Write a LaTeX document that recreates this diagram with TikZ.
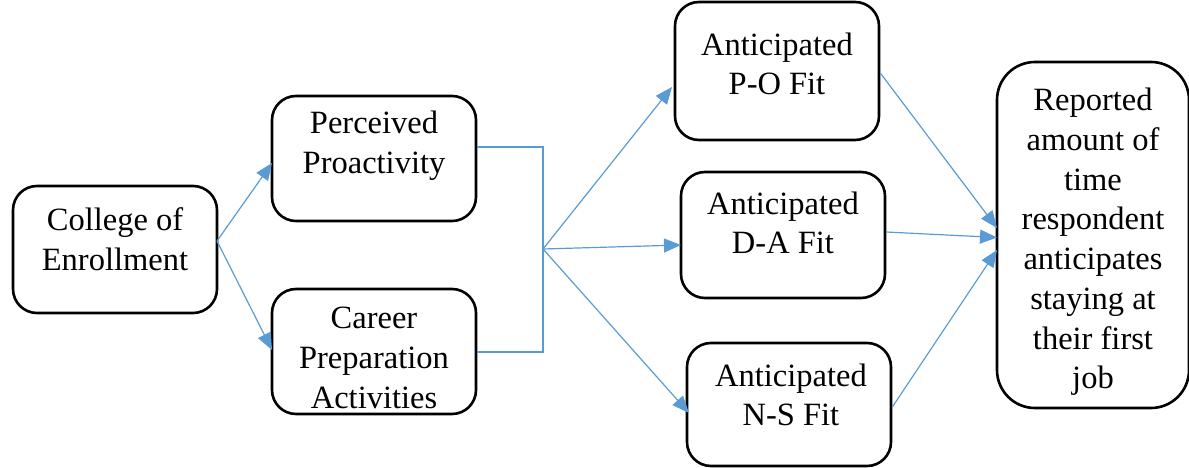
\documentclass[tikz,border=0pt]{standalone}
\usepackage{fontspec}
\setmainfont{Liberation Serif}
\usetikzlibrary{arrows.meta}
\definecolor{arrowblue}{HTML}{5B9BD5}
\tikzset{
  box/.style={draw=black, line width=2.6pt, rounded corners=24pt, inner sep=0pt},
  txt/.style={align=center, inner sep=0pt, font=\fontsize{32.5}{39.7}\selectfont},
  conn/.style={draw=arrowblue, line width=1.2pt},
  arr/.style={conn, -{Triangle[length=17pt,width=14pt]}}
}
\begin{document}
\begin{tikzpicture}[x=1pt,y=-1pt]
\useasboundingbox (0,0) rectangle (1189,468);
% boxes
\node[box, minimum width=204pt, minimum height=127pt] (col) at (115,249.5) {};
\node[box, minimum width=204pt, minimum height=125pt] (per) at (374,158.5) {};
\node[box, minimum width=204pt, minimum height=125pt] (car) at (374,351.5) {};
\node[box, minimum width=204pt, minimum height=138pt] (po) at (777,71) {};
\node[box, minimum width=204pt, minimum height=126pt] (da) at (783,235) {};
\node[box, minimum width=204pt, minimum height=123pt] (ns) at (789,404.5) {};
\node[box, rounded corners=38pt, minimum width=192pt, minimum height=346pt] (rep) at (1093,235) {};
% texts
\node[txt] (tcol) at (115,239) {College of\\Enrollment};
\node[txt] (tper) at (374,146) {Perceived\\Proactivity};
\node[txt] (tcar) at (374,358) {Career\\Preparation\\Activities};
\node[txt] (tpo) at (777,64) {Anticipated\\P-O Fit};
\node[txt] (tda) at (783,223) {Anticipated\\D-A Fit};
\node[txt] (tns) at (791,395) {Anticipated\\N-S Fit};
\node[txt] (trep) at (1093,242) {Reported\\amount of\\time\\respondent\\anticipates\\staying at\\their first\\job};
% connectors
\coordinate (c0) at (217,241);
\coordinate (j) at (543,249);
\draw[arr] (c0) -- (272,163);
\draw[arr] (c0) -- (272,350);
\draw[conn] (per.east |- 0,147) -| (j);
\draw[conn] (car.east |- 0,352) -| (j);
\draw[arr] (j) -- (672,87);
\draw[arr] (j) -- (681,245);
\draw[arr] (j) -- (689,413);
\draw[arr] (po.east |- 0,73) -- (997,228);
\draw[arr] (da.east |- 0,232) -- (997,237.5);
\draw[arr] (ns.east |- 0,407) -- (997,250);
\end{tikzpicture}
\end{document}
